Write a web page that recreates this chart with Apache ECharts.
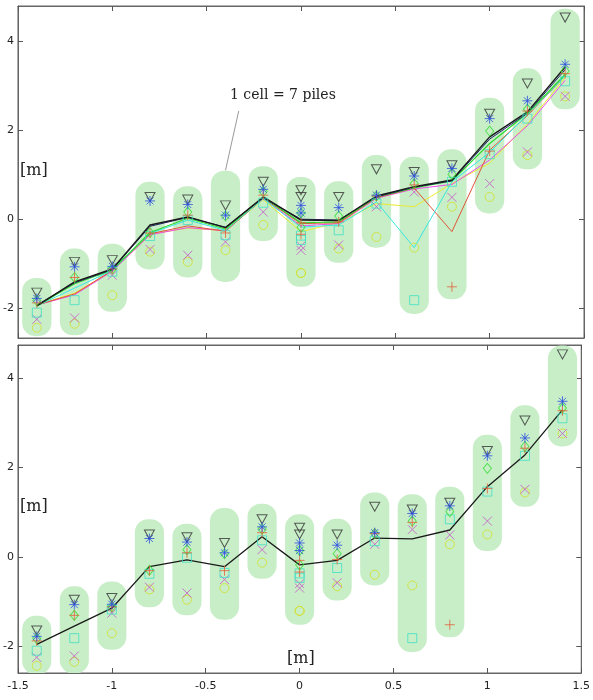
<!DOCTYPE html>
<html>
<head>
<meta charset="utf-8">
<script src="https://cdn.jsdelivr.net/npm/echarts@6/dist/echarts.min.js"></script>
<style>
  html, body { margin: 0; padding: 0; background: #fff; }
  #chart { width: 593px; height: 700px; }
</style>
</head>
<body>
<div id="chart"></div>
<script>
// cell centres (x) and the vertical span of each green cell
const cellX = [-1.4, -1.2, -1, -0.8, -0.6, -0.4, -0.2, 0, 0.2, 0.4, 0.6, 0.8, 1, 1.2, 1.4];
const cellTop = [-1.32, -0.66, -0.55, 0.84, 0.74, 1.09, 1.19, 0.95, 0.85, 1.44, 1.40, 1.57, 2.73, 3.39, 4.73];
const cellBot = [-2.63, -2.61, -2.08, -1.13, -1.31, -1.41, -0.49, -1.52, -0.98, -0.64, -2.13, -1.80, 0.13, 1.12, 2.47];

// pile markers (x = 0 holds two groups)
const markX = [-1.4, -1.2, -1, -0.8, -0.6, -0.4, -0.2, 0, 0, 0.2, 0.4, 0.6, 0.8, 1, 1.2, 1.4];
const triVals = [-1.65, -0.96, -0.92, 0.50, 0.44, 0.31, 0.84, 0.65, 0.50, 0.50, 1.12, 1.06, 1.21, 2.37, 3.05, 4.53];
const astVals = [-1.78, -1.07, -1.06, 0.41, 0.33, 0.09, 0.67, 0.31, 0.14, 0.26, 0.54, 0.97, 1.14, 2.26, 2.66, 3.48];
const plusVals = [-1.88, -1.31, -1.12, -0.31, 0.09, -0.31, 0.54, -0.08, -0.34, -0.06, 0.52, 0.77, -1.52, 1.53, 2.43, 3.27];
const crossVals = [-2.25, -2.22, -1.26, -0.68, -0.81, -0.51, 0.16, -0.60, -0.70, -0.58, 0.28, 0.61, 0.49, 0.80, 1.51, 2.76];
const sqVals = [-2.10, -1.82, -1.18, -0.38, -0.02, -0.36, 0.37, -0.37, -0.47, -0.25, 0.35, -1.82, 0.84, 1.46, 2.26, 3.10];
const circVals = [-2.44, -2.35, -1.71, -0.73, -0.96, -0.70, -0.13, -1.21, -1.21, -0.66, -0.40, -0.64, 0.28, 0.50, 1.44, 2.76];
const diaVals = [-1.83, -1.31, -1.12, -0.30, 0.16, 0.07, 0.62, 0.14, -0.18, 0.07, 0.52, 0.80, 1.01, 1.98, 2.47, 3.33];

// fitted lines, top panel
const lineBlack = [-1.95, -1.41, -1.12, -0.13, 0.05, -0.19, 0.50, -0.02, -0.03, 0.52, 0.73, 0.88, 1.85, 2.41, 3.42];
const lineNavy = [-1.93, -1.43, -1.13, -0.16, 0.04, -0.18, 0.48, 0.00, -0.02, 0.50, 0.72, 0.86, 1.80, 2.38, 3.36];
const lineGreen = [-1.95, -1.45, -1.14, -0.30, 0.02, -0.22, 0.49, -0.08, -0.06, 0.50, 0.70, 0.86, 1.70, 2.38, 3.25];
const lineCyan = [-1.95, -1.55, -1.15, -0.32, -0.02, -0.25, 0.46, -0.18, -0.13, 0.39, -0.64, 0.84, 1.50, 2.35, 3.22];
const lineRed = [-1.93, -1.68, -1.15, -0.33, -0.15, -0.27, 0.47, -0.10, -0.08, 0.48, 0.70, -0.28, 1.55, 2.33, 3.22];
const lineMagenta = [-1.93, -1.70, -1.17, -0.35, -0.19, -0.26, 0.46, -0.15, -0.10, 0.47, 0.68, 0.78, 1.33, 2.10, 3.12];
const lineYellow = [-1.93, -1.66, -1.17, -0.34, -0.20, -0.26, 0.44, -0.28, -0.08, 0.35, 0.28, 0.80, 1.26, 2.14, 3.18];
// single fitted line, bottom panel
const lineBottom = [-1.96, -1.55, -1.15, -0.22, -0.07, -0.22, 0.45, -0.18, -0.08, 0.42, 0.40, 0.60, 1.57, 2.28, 3.29];

const yTicks = [-2, 0, 2, 4];

let chart = echarts.init(document.getElementById("chart"));

function pairs(xs, ys) {
    return xs.map((x, i) => [x, ys[i]]);
}

function xAx(grid, pos, labels) {
    return {
        type: "value", gridIndex: grid, position: pos,
        min: -1.5, max: 1.5, interval: 0.5,
        axisLine: { show: true, onZero: false, lineStyle: { color: "#666" } },
        axisTick: { show: true, inside: true, length: 5, lineStyle: { color: "#555" } },
        axisLabel: { show: labels, color: "#222", fontSize: 11, fontFamily: "DejaVu Sans", margin: 8 },
        splitLine: { show: false }
    };
}

function yAx(grid, pos, labels, min, max) {
    return {
        type: "value", gridIndex: grid, position: pos,
        min: min, max: max,
        axisLine: { show: true, onZero: false, lineStyle: { color: "#666" } },
        axisTick: { show: true, inside: true, length: 5, customValues: yTicks, lineStyle: { color: "#555" } },
        axisLabel: { show: labels, customValues: yTicks, color: "#222", fontSize: 11, fontFamily: "DejaVu Sans", margin: 4 },
        splitLine: { show: false }
    };
}

function cells(xi, yi) {
    return {
        type: "custom", xAxisIndex: xi, yAxisIndex: yi, z: 1, clip: true,
        data: cellX.map((x, i) => [x, cellBot[i], cellTop[i]]),
        renderItem: function(params, api) {
            let top = api.coord([api.value(0), api.value(2)]);
            let bot = api.coord([api.value(0), api.value(1)]);
            let w = api.size([0.155, 0])[0];
            return {
                type: "rect",
                shape: { x: top[0] - w / 2, y: top[1], width: w, height: bot[1] - top[1], r: w * 0.45 },
                style: { fill: "#c8eec8" }
            };
        }
    };
}

const P_TRI = "path://M0,0 L10,0 L5,8.7 Z";
const P_PLUS = "path://M5,0 L5,10 M0,5 L10,5";
const P_CROSS = "path://M0,0 L10,10 M10,0 L0,10";
const P_AST = "path://M5,0 L5,10 M0,5 L10,5 M1.5,1.5 L8.5,8.5 M8.5,1.5 L1.5,8.5";

function markers(xi, yi) {
    let defs = [
        { vals: triVals, sym: P_TRI, size: [10, 9], color: "#333" },
        { vals: circVals, sym: "circle", size: 9, color: "#d2e028" },
        { vals: crossVals, sym: P_CROSS, size: 9, color: "#c856c8" },
        { vals: sqVals, sym: "rect", size: 9, color: "#3ee0c4" },
        { vals: diaVals, sym: "diamond", size: [8, 10], color: "#36dd36" },
        { vals: plusVals, sym: P_PLUS, size: 10, color: "#e0603a" },
        { vals: astVals, sym: P_AST, size: 10, color: "#2a4de0" }
    ];
    return defs.map(d => ({
        type: "scatter", xAxisIndex: xi, yAxisIndex: yi, z: 4,
        symbol: d.sym, symbolSize: d.size,
        itemStyle: { color: "transparent", borderColor: d.color, borderWidth: 1 },
        data: pairs(markX, d.vals)
    }));
}

function line(xi, yi, vals, color, width) {
    return {
        type: "line", xAxisIndex: xi, yAxisIndex: yi, z: 3,
        symbol: "none", data: pairs(cellX, vals),
        lineStyle: { color: color, width: width }
    };
}

function label(text, left, top, size) {
    return {
        type: "text", left: left, top: top,
        style: { text: text, fontFamily: "DejaVu Serif", fontSize: size, fill: "#222" }
    };
}

let option = {
    animation: false,
    backgroundColor: "#fff",
    grid: [
        { left: 17, right: 9, top: 6, height: 332, show: true, borderColor: "#666", borderWidth: 1 },
        { left: 17, right: 9, top: 345, height: 328, show: true, borderColor: "#666", borderWidth: 1 }
    ],
    xAxis: [
        xAx(0, "bottom", false), xAx(0, "top", false),
        xAx(1, "bottom", true), xAx(1, "top", false)
    ],
    yAxis: [
        yAx(0, "left", true, -2.67, 4.79), yAx(0, "right", false, -2.67, 4.79),
        yAx(1, "left", true, -2.6, 4.74), yAx(1, "right", false, -2.6, 4.74)
    ],
    series: [
        cells(0, 0),
        line(0, 0, lineYellow, "#eaea30", 1),
        line(0, 0, lineMagenta, "#ee4ee8", 1),
        line(0, 0, lineRed, "#e0553a", 1),
        line(0, 0, lineCyan, "#36e8e0", 1),
        line(0, 0, lineGreen, "#2ed82e", 1.2),
        line(0, 0, lineNavy, "#22226e", 1),
        Object.assign(line(0, 0, lineBlack, "#1a1a1a", 1.4), {
            markLine: {
                silent: true, symbol: "none", label: { show: false },
                lineStyle: { color: "#999", width: 1, type: "solid" },
                data: [[{ coord: [-0.33, 2.43] }, { coord: [-0.40, 1.10] }]]
            }
        }),
        ...markers(0, 0),
        cells(2, 2),
        line(2, 2, lineBottom, "#1a1a1a", 1.3),
        ...markers(2, 2)
    ],
    graphic: [
        label("[m]", 20, 163, 16),
        label("1 cell = 7 piles", 230, 88, 14),
        label("[m]", 20, 499, 16),
        label("[m]", 287, 651, 16)
    ]
};

chart.setOption(option, true);
</script>
</body>
</html>
